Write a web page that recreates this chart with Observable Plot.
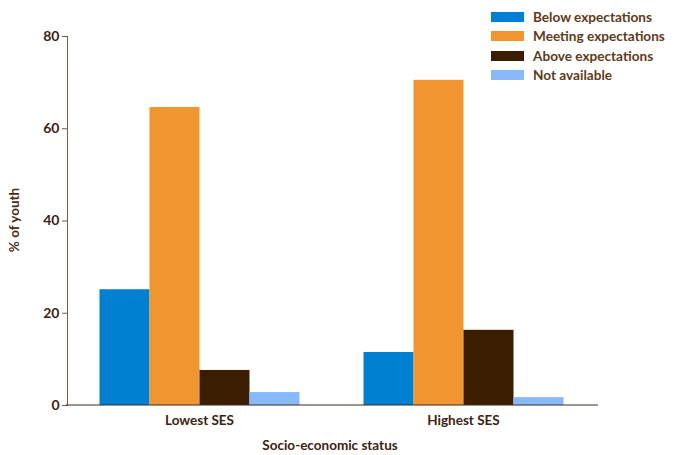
<!DOCTYPE html>
<html>
<head>
<meta charset="utf-8">
<script src="https://cdn.jsdelivr.net/npm/d3@7"></script>
<script src="https://cdn.jsdelivr.net/npm/@observablehq/plot@0.6"></script>
<style>
  html, body { margin: 0; padding: 0; background: #fff; }
  #wrap { position: relative; width: 678px; height: 455px; font-family: Lato, "Open Sans", sans-serif; }
  #legend { position: absolute; left: 491px; top: 7px; }
  .row { display: flex; align-items: center; height: 19.5px; }
  .sw { width: 33px; height: 10px; margin-right: 9px; }
  .lab { font-weight: bold; font-size: 13.6px; color: #5e3a1a; }
</style>
</head>
<body>
<div id="wrap">
  <div id="chart"></div>
  <div id="legend"></div>
</div>
<script>
const groups = ["Lowest SES", "Highest SES"];
const categories = ["Below expectations", "Meeting expectations", "Above expectations", "Not available"];
const colors = ["#0080d0", "#f0952f", "#3b1e02", "#87b9fb"];
const lowestValues = [25.1, 64.6, 7.6, 2.8];
const highestValues = [11.5, 70.5, 16.3, 1.7];
const yTicks = [0, 20, 40, 60, 80];

const data = [];
categories.forEach((c, i) => {
  data.push({ses: groups[0], cat: c, value: lowestValues[i]});
  data.push({ses: groups[1], cat: c, value: highestValues[i]});
});

const textColor = "#3b2314";

const chart = Plot.plot({
  width: 678,
  height: 455,
  marginLeft: 66.5,
  marginRight: 83.5,
  marginTop: 36,
  marginBottom: 50,
  style: {fontFamily: "Lato, 'Open Sans', sans-serif", color: textColor, background: "#fff"},
  fx: {domain: groups, padding: 0, label: null},
  x: {domain: categories, padding: 0, paddingOuter: 0.6, axis: null},
  y: {domain: [0, 80], label: null},
  color: {domain: categories, range: colors},
  marks: [
    Plot.barY(data, {fx: "ses", x: "cat", y: "value", fill: "cat"}),
    Plot.axisY({ticks: yTicks, tickSize: 5, tickPadding: 3, fontSize: 14, fontWeight: "bold", stroke: "#7b5b42", label: null, facetAnchor: "left"}),
    Plot.axisFx({anchor: "bottom", tickSize: 0, tickPadding: 10, fontSize: 13.5, fontWeight: "bold", label: null}),
    Plot.frame({anchor: "left", stroke: "#7b5b42", facetAnchor: "left"})
  ]
});

const svg = d3.select(chart);
const y0 = chart.scale("y").apply(0);
svg.append("line")
  .attr("x1", 66).attr("x2", 598).attr("y1", y0).attr("y2", y0)
  .attr("stroke", "#3b2a1e").attr("stroke-width", 1.2);
svg.append("text")
  .attr("x", 330).attr("y", 450)
  .attr("text-anchor", "middle")
  .attr("font-size", 13.5).attr("font-weight", "bold").attr("fill", textColor)
  .text("Socio-economic status");
svg.append("text")
  .attr("transform", "translate(19,220) rotate(-90)")
  .attr("text-anchor", "middle")
  .attr("font-size", 13.5).attr("font-weight", "bold").attr("fill", "#4a2a10")
  .text("% of youth");

document.getElementById("chart").appendChild(chart);

const legend = document.getElementById("legend");
categories.forEach((c, i) => {
  const row = document.createElement("div");
  row.className = "row";
  row.innerHTML = `<div class="sw" style="background:${colors[i]}"></div><div class="lab">${c}</div>`;
  legend.appendChild(row);
});
</script>
</body>
</html>
